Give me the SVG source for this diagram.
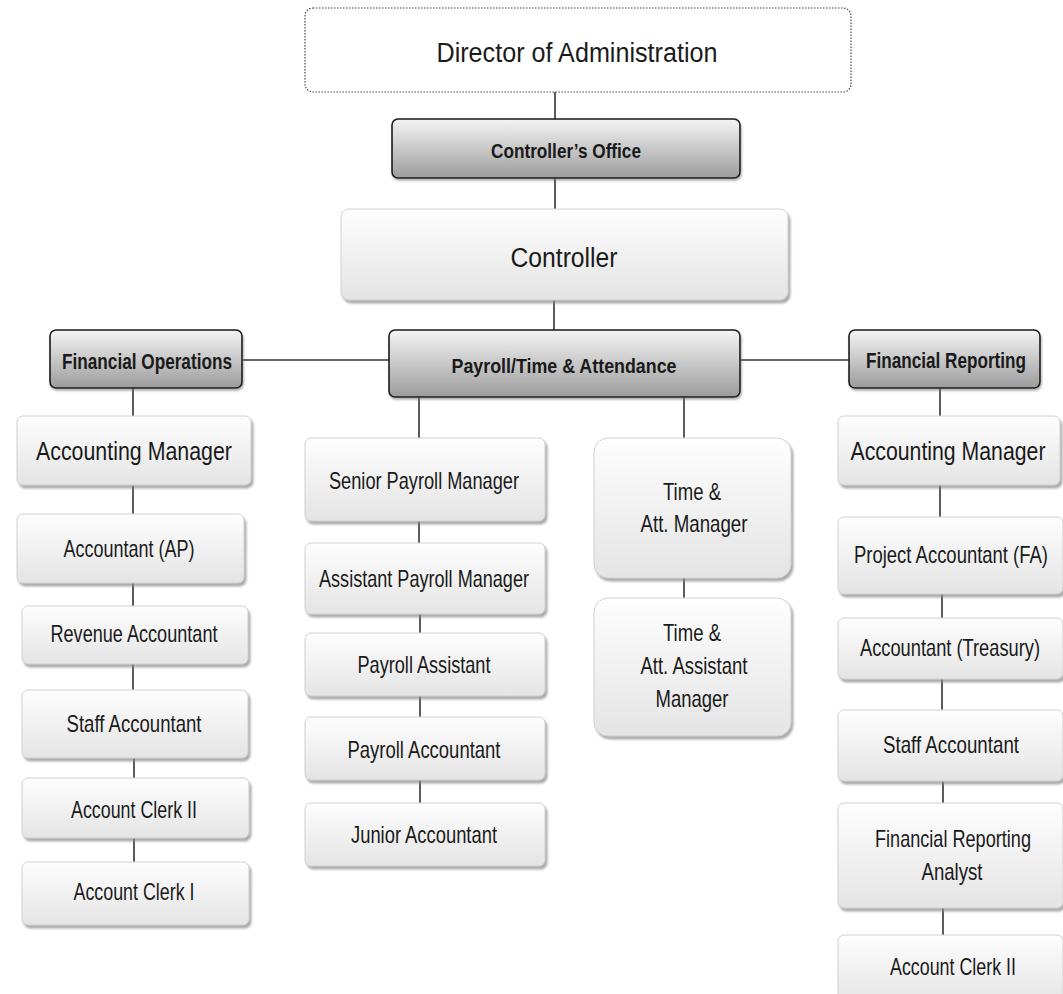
<svg xmlns="http://www.w3.org/2000/svg" width="1063" height="994" viewBox="0 0 1063 994">
<style>
.lt{fill:url(#gl);stroke:#d0d0d0;stroke-width:1;filter:url(#sh)}
.dk{fill:url(#gd);stroke:#1a1a1a;stroke-width:1.6;filter:url(#sh2)}
.dir{fill:#ffffff;stroke:#444;stroke-width:1.2;stroke-dasharray:1.5 1.5}
text{font-family:"Liberation Sans",Arial,sans-serif;fill:#1a1a1a;text-anchor:middle}
.b{font-weight:bold;font-size:22px}
.n{font-size:23px}
.m{font-size:26px}
.l{font-size:28px}
#connectors line{stroke:#333;stroke-width:1.6}
</style>
<defs>
<linearGradient id="gl" x1="0" y1="0" x2="0" y2="1">
<stop offset="0" stop-color="#fefefe"/>
<stop offset="1" stop-color="#e4e4e4"/>
</linearGradient>
<linearGradient id="gd" x1="0" y1="0" x2="0" y2="1">
<stop offset="0" stop-color="#f4f4f4"/>
<stop offset="1" stop-color="#9c9c9c"/>
</linearGradient>
<filter id="sh" x="-5%" y="-10%" width="115%" height="130%">
<feDropShadow dx="2" dy="3" stdDeviation="1.2" flood-color="#888" flood-opacity="0.7"/>
</filter>
<filter id="sh2" x="-5%" y="-10%" width="115%" height="130%">
<feDropShadow dx="1" dy="2" stdDeviation="1" flood-color="#777" flood-opacity="0.6"/>
</filter>
</defs>
<g id="connectors">
<line x1="555" y1="92" x2="555" y2="119"/>
<line x1="555" y1="178" x2="555" y2="209"/>
<line x1="554" y1="300" x2="554" y2="330"/>
<line x1="242" y1="360" x2="389" y2="360"/>
<line x1="740" y1="360" x2="849" y2="360"/>
<line x1="133" y1="388" x2="133" y2="416"/>
<line x1="133" y1="485" x2="133" y2="514"/>
<line x1="133" y1="583" x2="133" y2="606"/>
<line x1="133" y1="664" x2="133" y2="690"/>
<line x1="134" y1="758" x2="134" y2="778"/>
<line x1="134" y1="838" x2="134" y2="862"/>
<line x1="419" y1="397" x2="419" y2="438"/>
<line x1="419" y1="521" x2="419" y2="543"/>
<line x1="420" y1="614" x2="420" y2="633"/>
<line x1="420" y1="696" x2="420" y2="717"/>
<line x1="420" y1="780" x2="420" y2="803"/>
<line x1="684" y1="397" x2="684" y2="438"/>
<line x1="684" y1="578" x2="684" y2="598"/>
<line x1="940" y1="388" x2="940" y2="416"/>
<line x1="940" y1="485" x2="940" y2="517"/>
<line x1="942" y1="594" x2="942" y2="618"/>
<line x1="942" y1="679" x2="942" y2="710"/>
<line x1="943" y1="781" x2="943" y2="803"/>
<line x1="943" y1="908" x2="943" y2="935"/>
</g>
<g id="director"><rect class="dir" x="305" y="8" width="546" height="84" rx="8"/><text class="l" transform="scale(0.8,1)" x="721.25" y="62" textLength="351.25" lengthAdjust="spacingAndGlyphs">Director of Administration</text></g>
<g id="controllers-office"><rect class="dk" x="392" y="119" width="348" height="59" rx="6"/><text class="b" transform="scale(0.8,1)" x="707.5" y="158" textLength="187.5" lengthAdjust="spacingAndGlyphs" style="font-size:21px">Controller’s Office</text></g>
<g id="controller"><rect class="lt" x="341" y="209" width="447" height="91" rx="8"/><text class="l" transform="scale(0.8,1)" x="705" y="267" textLength="133.75" lengthAdjust="spacingAndGlyphs">Controller</text></g>
<g id="payroll-time"><rect class="dk" x="389" y="330" width="351" height="67" rx="6"/><text class="b" transform="scale(0.8,1)" x="705" y="373" textLength="281.25" lengthAdjust="spacingAndGlyphs" style="font-size:21px">Payroll/Time &amp; Attendance</text></g>
<g id="financial-operations"><rect class="dk" x="50" y="330" width="192" height="58" rx="6"/><text class="b" transform="scale(0.8,1)" x="183.75" y="369" textLength="212.5" lengthAdjust="spacingAndGlyphs">Financial Operations</text></g>
<g id="financial-reporting"><rect class="dk" x="849" y="330" width="191" height="58" rx="6"/><text class="b" transform="scale(0.8,1)" x="1182.5" y="368" textLength="200" lengthAdjust="spacingAndGlyphs">Financial Reporting</text></g>
<g id="acct-mgr-left"><rect class="lt" x="17" y="416" width="234" height="69" rx="6"/><text class="m" transform="scale(0.8,1)" x="167.5" y="460" textLength="245" lengthAdjust="spacingAndGlyphs">Accounting Manager</text></g>
<g id="accountant-ap"><rect class="lt" x="17" y="514" width="227" height="69" rx="6"/><text class="n" transform="scale(0.8,1)" x="161.25" y="557" textLength="163.75" lengthAdjust="spacingAndGlyphs">Accountant (AP)</text></g>
<g id="revenue-accountant"><rect class="lt" x="22" y="606" width="226" height="58" rx="6"/><text class="n" transform="scale(0.8,1)" x="167.5" y="642" textLength="208.75" lengthAdjust="spacingAndGlyphs">Revenue Accountant</text></g>
<g id="staff-accountant-left"><rect class="lt" x="22" y="690" width="226" height="68" rx="6"/><text class="n" transform="scale(0.8,1)" x="167.5" y="732" textLength="168.75" lengthAdjust="spacingAndGlyphs">Staff Accountant</text></g>
<g id="account-clerk-ii-left"><rect class="lt" x="22" y="778" width="227" height="60" rx="6"/><text class="n" transform="scale(0.8,1)" x="167.5" y="818" textLength="157.5" lengthAdjust="spacingAndGlyphs">Account Clerk II</text></g>
<g id="account-clerk-i"><rect class="lt" x="22" y="862" width="227" height="63" rx="6"/><text class="n" transform="scale(0.8,1)" x="167.5" y="900" textLength="151.25" lengthAdjust="spacingAndGlyphs">Account Clerk I</text></g>
<g id="senior-payroll-manager"><rect class="lt" x="305" y="438" width="240" height="83" rx="6"/><text class="n" transform="scale(0.8,1)" x="530" y="489" textLength="237.5" lengthAdjust="spacingAndGlyphs">Senior Payroll Manager</text></g>
<g id="assistant-payroll-manager"><rect class="lt" x="305" y="543" width="240" height="71" rx="6"/><text class="n" transform="scale(0.8,1)" x="530" y="587" textLength="262.5" lengthAdjust="spacingAndGlyphs">Assistant Payroll Manager</text></g>
<g id="payroll-assistant"><rect class="lt" x="305" y="633" width="240" height="63" rx="6"/><text class="n" transform="scale(0.8,1)" x="530" y="673" textLength="166.25" lengthAdjust="spacingAndGlyphs">Payroll Assistant</text></g>
<g id="payroll-accountant"><rect class="lt" x="305" y="717" width="240" height="63" rx="6"/><text class="n" transform="scale(0.8,1)" x="530" y="758" textLength="191.25" lengthAdjust="spacingAndGlyphs">Payroll Accountant</text></g>
<g id="junior-accountant"><rect class="lt" x="305" y="803" width="240" height="63" rx="6"/><text class="n" transform="scale(0.8,1)" x="530" y="843" textLength="182.5" lengthAdjust="spacingAndGlyphs">Junior Accountant</text></g>
<g id="time-att-manager"><rect class="lt" x="594" y="438" width="197" height="140" rx="14"/><text class="n" transform="scale(0.8,1)" x="865" y="500" textLength="72.5" lengthAdjust="spacingAndGlyphs">Time &amp;</text><text class="n" transform="scale(0.8,1)" x="867.5" y="532" textLength="133.75" lengthAdjust="spacingAndGlyphs">Att. Manager</text></g>
<g id="time-att-assistant-manager"><rect class="lt" x="594" y="598" width="197" height="138" rx="14"/><text class="n" transform="scale(0.8,1)" x="865" y="641" textLength="72.5" lengthAdjust="spacingAndGlyphs">Time &amp;</text><text class="n" transform="scale(0.8,1)" x="867.5" y="674" textLength="133.75" lengthAdjust="spacingAndGlyphs">Att. Assistant</text><text class="n" transform="scale(0.8,1)" x="865" y="707" textLength="91.25" lengthAdjust="spacingAndGlyphs">Manager</text></g>
<g id="acct-mgr-right"><rect class="lt" x="838" y="416" width="222" height="69" rx="6"/><text class="m" transform="scale(0.8,1)" x="1185" y="460" textLength="243.75" lengthAdjust="spacingAndGlyphs">Accounting Manager</text></g>
<g id="project-accountant"><rect class="lt" x="838" y="517" width="225" height="77" rx="6"/><text class="n" transform="scale(0.8,1)" x="1188.75" y="563" textLength="242.5" lengthAdjust="spacingAndGlyphs">Project Accountant (FA)</text></g>
<g id="accountant-treasury"><rect class="lt" x="838" y="618" width="225" height="61" rx="6"/><text class="n" transform="scale(0.8,1)" x="1187.5" y="656" textLength="225" lengthAdjust="spacingAndGlyphs">Accountant (Treasury)</text></g>
<g id="staff-accountant-right"><rect class="lt" x="838" y="710" width="225" height="71" rx="6"/><text class="n" transform="scale(0.8,1)" x="1188.75" y="753" textLength="170" lengthAdjust="spacingAndGlyphs">Staff Accountant</text></g>
<g id="financial-reporting-analyst"><rect class="lt" x="838" y="803" width="225" height="105" rx="6"/><text class="n" transform="scale(0.8,1)" x="1191.25" y="847" textLength="195" lengthAdjust="spacingAndGlyphs">Financial Reporting</text><text class="n" transform="scale(0.8,1)" x="1190" y="880" textLength="76.25" lengthAdjust="spacingAndGlyphs">Analyst</text></g>
<g id="account-clerk-ii-right"><rect class="lt" x="838" y="935" width="225" height="70" rx="6"/><text class="n" transform="scale(0.8,1)" x="1191.25" y="975" textLength="157.5" lengthAdjust="spacingAndGlyphs">Account Clerk II</text></g>
</svg>
